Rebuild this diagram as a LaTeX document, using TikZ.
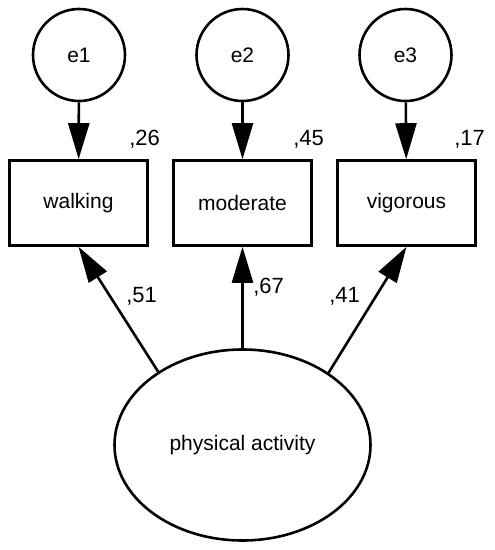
\documentclass[tikz,border=0pt]{standalone}
\usepackage{fontspec}
\setmainfont{Liberation Sans}
\usepackage{tikz}
\usetikzlibrary{arrows.meta,positioning,shapes.geometric}

\begin{document}
\begin{tikzpicture}[x=1pt,y=-1pt,line width=2.6pt,
  err/.style={draw,circle,minimum size=92pt,inner sep=0pt,font=\fontsize{21}{24}\selectfont},
  obs/.style={draw,rectangle,minimum width=138pt,minimum height=85pt,font=\fontsize{21}{24}\selectfont},
  lat/.style={draw,ellipse,minimum width=256pt,minimum height=191pt,font=\fontsize{21}{24}\selectfont},
  coef/.style={anchor=base west,inner sep=0pt,font=\fontsize{22}{25}\selectfont},
  path/.style={-{Triangle[length=36pt,width=21pt]}}]
\useasboundingbox (0,0) rectangle (495,550);
\node[err] (e1) at (79,55) {e1};
\node[err] (e2) at (242.5,55) {e2};
\node[err] (e3) at (405.5,55) {e3};
\node[obs] (walking) at (78.5,203) {walking};
\node[obs] (moderate) at (242.5,203) {moderate};
\node[obs] (vigorous) at (406.5,203) {vigorous};
\node[lat] (pa) at (242.5,445) {physical activity};
\draw[path] (e1) -- (walking);
\draw[path] (e2) -- (moderate);
\draw[path] (e3) -- (vigorous);
\draw[path] (pa.139.5) -- (walking.south);
\draw[path] (pa.north) -- (moderate.south);
\draw[path] (pa.40.5) -- (vigorous.south);
\node[coef] (r1) at (128,145) {,26};
\node[coef] (r2) at (292,145) {,45};
\node[coef] (r3) at (453,145) {,17};
\node[coef] (l1) at (125,302) {,51};
\node[coef] (l2) at (252,293) {,67};
\node[coef] (l3) at (328,302) {,41};
\end{tikzpicture}
\end{document}
